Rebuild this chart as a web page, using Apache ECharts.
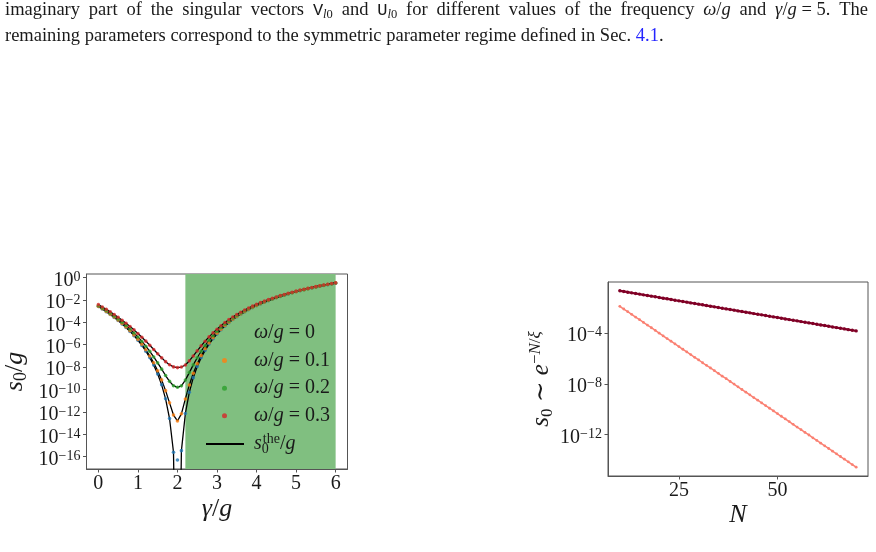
<!DOCTYPE html>
<html>
<head>
<meta charset="utf-8">
<script src="https://cdn.jsdelivr.net/npm/echarts@6/dist/echarts.min.js"></script>
<style>
html, body { margin: 0; padding: 0; background: #fff; }
#main { width: 876px; height: 552px; }
</style>
</head>
<body>
<div id="main"></div>
<script>
// ---- left panel: gamma/g sweep, values are log10(s0/g) ----
var gammaVals = [0,0.1,0.2,0.3,0.4,0.5,0.6,0.7,0.8,0.9,1,1.1,1.2,1.3,1.4,1.5,1.6,1.7,1.8,1.9,2,
  2.1,2.2,2.3,2.4,2.5,2.6,2.7,2.8,2.9,3,3.1,3.2,3.3,3.4,3.5,3.6,3.7,3.8,3.9,4,
  4.1,4.2,4.3,4.4,4.5,4.6,4.7,4.8,4.9,5,5.1,5.2,5.3,5.4,5.5,5.6,5.7,5.8,5.9,6];

var logW0 = [-2.59,-2.81,-3.05,-3.30,-3.56,-3.84,-4.14,-4.46,-4.81,-5.19,-5.60,-6.06,-6.57,-7.15,-7.82,-8.61,-9.58,-10.83,-12.59,-15.60,-16.30,
  -15.46,-12.14,-10.25,-8.94,-7.95,-7.15,-6.50,-5.94,-5.46,-5.04,-4.66,-4.33,-4.03,-3.75,-3.50,-3.27,-3.06,-2.86,-2.68,-2.51,
  -2.35,-2.20,-2.06,-1.93,-1.80,-1.68,-1.57,-1.46,-1.36,-1.27,-1.17,-1.09,-1.00,-0.92,-0.84,-0.77,-0.70,-0.63,-0.57,-0.50];
var logW1 = [-2.57,-2.79,-3.02,-3.27,-3.53,-3.80,-4.10,-4.41,-4.75,-5.12,-5.52,-5.96,-6.45,-7.00,-7.61,-8.32,-9.14,-10.10,-11.19,-12.28,-12.81,
  -12.17,-10.84,-9.59,-8.55,-7.69,-6.97,-6.36,-5.84,-5.38,-4.97,-4.61,-4.28,-3.99,-3.72,-3.47,-3.25,-3.04,-2.84,-2.66,-2.49,
  -2.33,-2.19,-2.05,-1.92,-1.79,-1.67,-1.56,-1.45,-1.35,-1.26,-1.16,-1.08,-0.99,-0.91,-0.83,-0.76,-0.69,-0.62,-0.56,-0.49];
var logW2 = [-2.51,-2.73,-2.95,-3.19,-3.44,-3.70,-3.98,-4.28,-4.60,-4.94,-5.31,-5.70,-6.13,-6.59,-7.09,-7.62,-8.18,-8.75,-9.27,-9.66,-9.80,
  -9.67,-9.16,-8.49,-7.80,-7.16,-6.58,-6.07,-5.60,-5.19,-4.82,-4.48,-4.17,-3.89,-3.64,-3.40,-3.18,-2.98,-2.79,-2.62,-2.45,
  -2.30,-2.16,-2.02,-1.90,-1.77,-1.66,-1.55,-1.44,-1.35,-1.25,-1.16,-1.08,-0.99,-0.91,-0.84,-0.76,-0.69,-0.62,-0.56,-0.49];
var logW3 = [-2.42,-2.63,-2.84,-3.06,-3.30,-3.55,-3.81,-4.08,-4.37,-4.67,-4.99,-5.33,-5.68,-6.04,-6.42,-6.80,-7.17,-7.51,-7.79,-7.98,-8.04,
  -7.99,-7.81,-7.44,-7.00,-6.55,-6.10,-5.69,-5.30,-4.94,-4.61,-4.30,-4.02,-3.76,-3.52,-3.30,-3.10,-2.90,-2.72,-2.55,-2.39,
  -2.24,-2.10,-1.97,-1.85,-1.73,-1.61,-1.51,-1.40,-1.31,-1.21,-1.12,-1.04,-0.96,-0.88,-0.81,-0.73,-0.66,-0.60,-0.53,-0.47];
// theory for omega = 0 drops to zero exactly at gamma/g = 2
var logTheoryW0 = logW0.map(function (v, i) { return gammaVals[i] === 2 ? -40 : v; });

var leftTicksX = [0, 1, 2, 3, 4, 5, 6];
var leftTicksY = [0, -2, -4, -6, -8, -10, -12, -14, -16];
var shadeFrom = 2.2, shadeTo = 6;

// ---- right panel: scaling with N ----
var nVals = [10,11,12,13,14,15,16,17,18,19,20,21,22,23,24,25,26,27,28,29,30,31,32,33,34,35,36,37,38,39,40,
  41,42,43,44,45,46,47,48,49,50,51,52,53,54,55,56,57,58,59,60,61,62,63,64,65,66,67,68,69,70];
var logSlow = [-0.70,-0.75,-0.81,-0.86,-0.91,-0.96,-1.02,-1.07,-1.12,-1.17,-1.23,-1.28,-1.33,-1.38,-1.44,-1.49,-1.54,-1.59,-1.65,-1.70,-1.75,
  -1.80,-1.86,-1.91,-1.96,-2.01,-2.07,-2.12,-2.17,-2.22,-2.28,-2.33,-2.38,-2.43,-2.49,-2.54,-2.59,-2.64,-2.70,-2.75,-2.80,
  -2.85,-2.91,-2.96,-3.01,-3.06,-3.12,-3.17,-3.22,-3.27,-3.33,-3.38,-3.43,-3.48,-3.54,-3.59,-3.64,-3.69,-3.75,-3.80,-3.85];
var logFast = [-1.92,-2.13,-2.34,-2.55,-2.76,-2.97,-3.18,-3.39,-3.60,-3.81,-4.03,-4.24,-4.45,-4.66,-4.87,-5.08,-5.29,-5.50,-5.71,-5.92,-6.13,
  -6.35,-6.55,-6.76,-6.97,-7.18,-7.40,-7.60,-7.82,-8.02,-8.24,-8.45,-8.66,-8.87,-9.08,-9.29,-9.50,-9.71,-9.92,-10.13,-10.34,
  -10.55,-10.76,-10.97,-11.18,-11.40,-11.60,-11.82,-12.02,-12.24,-12.45,-12.66,-12.87,-13.08,-13.29,-13.50,-13.71,-13.92,-14.13,-14.34,-14.55];
var rightTicksX = [25, 50];
var rightTicksY = [-4, -8, -12];

var SERIF = "'Liberation Serif', 'DejaVu Serif', serif";
var INK = '#1a1a1a';
var AXIS = '#555';

function pairs(xs, ys) { return xs.map(function (x, i) { return [x, ys[i]]; }); }

// "10" with a raised exponent
var powRich = {
  b: { fontFamily: SERIF, fontSize: 20, color: INK, lineHeight: 14, padding: [6, 0, 0, 0] },
  s: { fontFamily: SERIF, fontSize: 14, color: INK, lineHeight: 12, verticalAlign: 'top' }
};
function powLabel(v) {
  return '{b|10}{s|' + (v === 0 ? '0' : '\u2212' + Math.abs(v)) + '}';
}
function mathRich(size, sub) {
  return {
    i: { fontFamily: SERIF, fontStyle: 'italic', fontSize: size, color: INK, lineHeight: size + 4 },
    r: { fontFamily: SERIF, fontSize: size, color: INK, lineHeight: size + 4 },
    sub: { fontFamily: SERIF, fontSize: sub, color: INK, verticalAlign: 'bottom', lineHeight: sub },
    sup: { fontFamily: SERIF, fontSize: sub, color: INK, verticalAlign: 'top', lineHeight: sub },
    supi: { fontFamily: SERIF, fontStyle: 'italic', fontSize: sub, color: INK, verticalAlign: 'top', lineHeight: sub }
  };
}

var legendRich = {
  pad: { width: 22 },
  pad2: { width: 5 },
  i: { fontFamily: SERIF, fontStyle: 'italic', fontSize: 20, color: INK, lineHeight: 24 },
  r: { fontFamily: SERIF, fontSize: 20, color: INK, lineHeight: 24 },
  sub: { fontFamily: SERIF, fontSize: 14, color: INK, verticalAlign: 'bottom', lineHeight: 12, width: 1 },
  sup: { fontFamily: SERIF, fontSize: 14, color: INK, verticalAlign: 'top', lineHeight: 12 }
};
var legendText = {
  w0: '{pad| }{i|\u03c9}{r|/}{i|g}{r| = 0}',
  w1: '{pad| }{i|\u03c9}{r|/}{i|g}{r| = 0.1}',
  w2: '{pad| }{i|\u03c9}{r|/}{i|g}{r| = 0.2}',
  w3: '{pad| }{i|\u03c9}{r|/}{i|g}{r| = 0.3}',
  the: '{pad2| }{i|s}{sub|0}{sup|the}{r|/}{i|g}'
};

function axisCommon() {
  return {
    axisLine: { show: true, onZero: false, lineStyle: { color: AXIS, width: 1 } },
    axisTick: { show: true, length: 3.5, lineStyle: { color: AXIS } },
    splitLine: { show: false }
  };
}

function xAxis(grid, min, max, ticks, nameRich, gap) {
  var a = axisCommon();
  return Object.assign(a, {
    type: 'value', gridIndex: grid, min: min, max: max,
    axisTick: Object.assign(a.axisTick, { customValues: ticks }),
    axisLabel: { customValues: ticks, fontFamily: SERIF, fontSize: 20, color: INK, margin: 5,
      showMinLabel: true, showMaxLabel: true, hideOverlap: false },
    name: nameRich, nameLocation: 'middle', nameGap: gap,
    nameTextStyle: { rich: mathRich(26, 18) }
  });
}
function yAxis(grid, min, max, ticks, labelTicks, nameRich, gap, size, sub) {
  var a = axisCommon();
  return Object.assign(a, {
    type: 'value', gridIndex: grid, min: min, max: max, position: 'left',
    axisTick: Object.assign(a.axisTick, { customValues: ticks }),
    axisLabel: { customValues: labelTicks, formatter: powLabel, rich: powRich, margin: 6,
      showMinLabel: true, showMaxLabel: true, hideOverlap: false },
    name: nameRich, nameLocation: 'middle', nameGap: gap, nameRotate: 90,
    nameTextStyle: { rich: mathRich(size, sub) }
  });
}
// the left panel's labels sit closer than ECharts' overlap check allows,
// so every other label goes on a second, line-less axis at the same place
function yAxisExtraLabels(grid, min, max, labelTicks) {
  return {
    type: 'value', gridIndex: grid, min: min, max: max, position: 'left', offset: 0,
    axisLine: { show: false, onZero: false }, axisTick: { show: false }, splitLine: { show: false },
    axisLabel: { customValues: labelTicks, formatter: powLabel, rich: powRich, margin: 6,
      showMinLabel: true, showMaxLabel: true, hideOverlap: false }
  };
}

function dots(name, ys, color) {
  return {
    type: 'scatter', name: name, xAxisIndex: 0, yAxisIndex: 0,
    data: pairs(gammaVals, ys), symbol: 'circle', symbolSize: 3.6,
    itemStyle: { color: color }, z: 3, silent: true
  };
}
function theory(ys) {
  return {
    type: 'line', name: 'the', xAxisIndex: 0, yAxisIndex: 0,
    data: pairs(gammaVals, ys), showSymbol: false, symbol: 'none',
    lineStyle: { color: '#000', width: 1.3 }, itemStyle: { color: '#000' },
    z: 2, silent: true
  };
}
function nLine(ys, color, w, size) {
  return {
    type: 'line', xAxisIndex: 1, yAxisIndex: 1,
    data: pairs(nVals, ys), symbol: 'circle', symbolSize: size, showSymbol: true,
    lineStyle: { color: color, width: w }, itemStyle: { color: color }, silent: true
  };
}

// caption line 1 is justified in the source, so its word gaps are widened
function spaced(style, txt) {
  return txt.split(' ').map(function (w) { return w ? '{' + style + '|' + w + '}' : ''; }).join('{sp| }');
}
var caption1 = spaced('r', 'imaginary part of the singular vectors ') + '{tt|V}{si|l}{s|0}' +
  spaced('r', ' and ') + '{tt|U}{si|l}{s|0}' +
  spaced('r', ' for different values of the frequency ') + '{i|\u03c9}{r|/}{i|g}' +
  spaced('r', ' and ') + '{i|\u03b3}{r|/}{i|g}{r| = 5.}{sp| }{r|The}';

var chart = echarts.init(document.getElementById('main'), null, { renderer: 'canvas' });
chart.setOption({
  animation: false,
  backgroundColor: '#fff',
  grid: [
    { left: 86.5, top: 274, width: 261, height: 195, show: true, borderColor: AXIS, borderWidth: 1, containLabel: false, outerBoundsMode: 'none' },
    { left: 608, top: 282, width: 260, height: 194, show: true, borderColor: AXIS, borderWidth: 1, containLabel: false, outerBoundsMode: 'none' }
  ],
  xAxis: [
    xAxis(0, -0.3, 6.3, leftTicksX, '{i|\u03b3}{r|/}{i|g}', 25),
    xAxis(1, 7, 73, rightTicksX, '{i|N}', 24)
  ],
  yAxis: [
    yAxis(0, -17.1, 0.32, leftTicksY, leftTicksY.filter(function (v, i) { return i % 2 === 0; }),
      '{i|s}{sub|0}{r|/}{i|g}', 56, 26, 18),
    yAxis(1, -15.24, -0.01, rightTicksY, rightTicksY,
      '{i|s}{sub|0}{r| \u223c }{i|e}{sup|\u2212}{supi|N}{sup|/}{supi|\u03be}', 51, 25, 17),
    yAxisExtraLabels(0, -17.1, 0.32, leftTicksY.filter(function (v, i) { return i % 2 === 1; }))
  ],
  legend: [
    {
      data: [{ name: 'w0', itemStyle: { opacity: 0 } }, 'w1', 'w2', 'w3'],
      orient: 'vertical', left: 217, top: 316, icon: 'circle',
      itemWidth: 5, itemHeight: 5, itemGap: 3.6, selectedMode: false,
      formatter: function (n) { return legendText[n]; },
      textStyle: { rich: legendRich, lineHeight: 24 }
    },
    {
      data: ['the'], orient: 'vertical', left: 201, top: 427, icon: 'rect',
      itemWidth: 38, itemHeight: 2, selectedMode: false,
      formatter: function (n) { return legendText[n]; },
      textStyle: { rich: legendRich, lineHeight: 24 }
    }
  ],
  series: [
    {
      type: 'line', xAxisIndex: 0, yAxisIndex: 0, data: [], z: 1, silent: true,
      markArea: {
        silent: true, itemStyle: { color: '#80bf80' },
        data: [[{ xAxis: shadeFrom }, { xAxis: shadeTo }]]
      }
    },
    theory(logTheoryW0), theory(logW1), theory(logW2), theory(logW3),
    dots('w0', logW0, '#1f77b4'),
    dots('w1', logW1, '#ff7f0e'),
    dots('w2', logW2, '#2ca02c'),
    dots('w3', logW3, '#d62728'),
    nLine(logFast, '#fa8072', 1.5, 2.8),
    nLine(logSlow, '#800026', 2.2, 3.4)
  ],
  graphic: [
    {
      type: 'text', left: 5, top: 1, silent: true,
      style: {
        text: caption1,
        rich: {
          r: { fontFamily: SERIF, fontSize: 18.5, fill: INK, lineHeight: 22 },
          sp: { fontFamily: SERIF, fontSize: 18.5, fill: INK, lineHeight: 22, width: 8.85 },
          i: { fontFamily: SERIF, fontStyle: 'italic', fontSize: 18.5, fill: INK, lineHeight: 22 },
          tt: { fontFamily: "'Liberation Mono', monospace", fontSize: 17, fill: INK, lineHeight: 22 },
          si: { fontFamily: SERIF, fontStyle: 'italic', fontSize: 12.5, fill: INK, lineHeight: 13, verticalAlign: 'bottom' },
          s: { fontFamily: SERIF, fontSize: 12.5, fill: INK, lineHeight: 13, verticalAlign: 'bottom' }
        }
      }
    },
    {
      type: 'text', left: 5, top: 27, silent: true,
      style: {
        text: '{r|remaining parameters correspond to the symmetric parameter regime defined in Sec. }{b|4.1}{r|.}',
        rich: {
          r: { fontFamily: SERIF, fontSize: 18.5, fill: INK, lineHeight: 22 },
          b: { fontFamily: SERIF, fontSize: 18.5, fill: '#2424ff', lineHeight: 22 }
        }
      }
    }
  ]
});
</script>
</body>
</html>
